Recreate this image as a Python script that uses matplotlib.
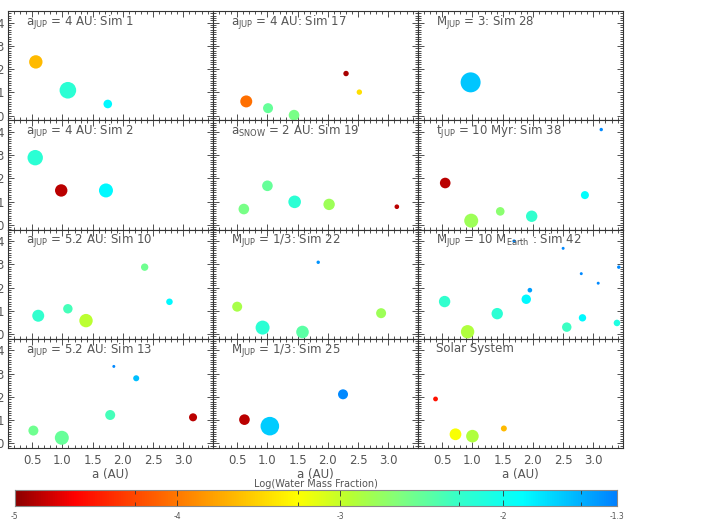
import matplotlib
matplotlib.use("Agg")
import matplotlib.pyplot as plt
import numpy as np
from matplotlib.colors import LinearSegmentedColormap
from matplotlib.ticker import MultipleLocator, FixedLocator

# ---------------- data (a [AU], y, mass [M_Earth], log water mass fraction) -------------
titles = [
    r"a$_{\mathrm{JUP}}$ = 4 AU: Sim 1",
    r"a$_{\mathrm{JUP}}$ = 4 AU: Sim 17",
    r"M$_{\mathrm{JUP}}$ = 3: Sim 28",
    r"a$_{\mathrm{JUP}}$ = 4 AU: Sim 2",
    r"a$_{\mathrm{SNOW}}$ = 2 AU: Sim 19",
    r"t$_{\mathrm{JUP}}$ = 10 Myr: Sim 38",
    r"a$_{\mathrm{JUP}}$ = 5.2 AU: Sim 10",
    r"M$_{\mathrm{JUP}}$ = 1/3: Sim 22",
    r"M$_{\mathrm{JUP}}$ = 10 M$_{\mathrm{Earth}}$ : Sim 42",
    r"a$_{\mathrm{JUP}}$ = 5.2 AU: Sim 13",
    r"M$_{\mathrm{JUP}}$ = 1/3: Sim 25",
    "Solar System",
]

sim1_a = [0.56, 1.09, 1.75]
sim1_y = [2.31, 1.09, 0.50]
sim1_m = [1.20, 2.29, 0.32]
sim1_w = [-3.65, -2.2, -1.85]

sim17_a = [2.30, 2.52, 0.65, 1.01, 1.44]
sim17_y = [1.81, 1.01, 0.61, 0.32, 0.02]
sim17_m = [0.08, 0.08, 0.86, 0.50, 0.60]
sim17_w = [-4.9, -3.45, -4.05, -2.5, -2.6]

sim28_a = [0.97]
sim28_y = [1.43]
sim28_m = [4.0]
sim28_w = [-1.62]

sim2_a = [0.55, 0.98, 1.72]
sim2_y = [2.89, 1.48, 1.48]
sim2_m = [1.83, 0.95, 1.37]
sim2_w = [-2.2, -4.85, -1.85]

sim19_a = [1.00, 0.61, 1.45, 2.02, 3.14]
sim19_y = [1.68, 0.68, 0.99, 0.88, 0.78]
sim19_m = [0.60, 0.60, 1.0, 0.74, 0.05]
sim19_w = [-2.5, -2.6, -2.2, -2.8, -4.85]

sim38_a = [3.13, 0.55, 2.86, 1.46, 1.98, 0.98]
sim38_y = [4.10, 1.80, 1.28, 0.58, 0.37, 0.18]
sim38_m = [0.02, 0.60, 0.26, 0.32, 0.74, 1.37]
sim38_w = [-1.35, -4.85, -1.9, -2.7, -2.25, -2.8]

sim10_a = [0.60, 1.09, 1.39, 2.36, 2.77]
sim10_y = [0.79, 1.09, 0.58, 2.88, 1.39]
sim10_m = [0.86, 0.42, 1.20, 0.20, 0.14]
sim10_w = [-2.25, -2.35, -2.95, -2.55, -1.85]

sim22_a = [1.84, 0.50, 0.92, 1.58, 2.88]
sim22_y = [3.09, 1.18, 0.28, 0.09, 0.90]
sim22_m = [0.02, 0.50, 1.37, 1.0, 0.50]
sim22_w = [-1.4, -2.85, -2.2, -2.45, -2.8]

sim42_a = [1.69, 2.50, 2.80, 3.08, 3.42, 1.95, 0.54, 1.89, 1.41, 0.92, 2.56, 2.82, 3.39]
sim42_y = [4.00, 3.69, 2.60, 2.19, 2.88, 1.89, 1.40, 1.50, 0.88, 0.10, 0.30, 0.70, 0.48]
sim42_m = [0.02, 0.013, 0.013, 0.013, 0.02, 0.05, 0.74, 0.42, 0.74, 1.20, 0.42, 0.20, 0.14]
sim42_w = [-1.35, -1.35, -1.35, -1.35, -1.35, -1.45, -2.25, -1.85, -2.2, -2.9, -2.3, -1.85, -2.1]

sim13_a = [1.85, 2.22, 1.79, 3.16, 0.52, 0.99]
sim13_y = [3.31, 2.80, 1.22, 1.12, 0.55, 0.24]
sim13_m = [0.013, 0.11, 0.50, 0.26, 0.50, 1.37]
sim13_w = [-1.35, -1.6, -2.35, -4.85, -2.55, -2.5]

sim25_a = [0.62, 1.04, 2.25]
sim25_y = [1.02, 0.74, 2.11]
sim25_m = [0.60, 3.2, 0.50]
sim25_w = [-4.85, -1.65, -1.35]

solar_a = [0.39, 0.72, 1.00, 1.52]
solar_y = [1.91, 0.39, 0.31, 0.64]
solar_m = [0.055, 0.815, 1.0, 0.107]
solar_w = [-4.55, -3.25, -2.9, -3.65]

panels = [
    (sim1_a, sim1_y, sim1_m, sim1_w),
    (sim17_a, sim17_y, sim17_m, sim17_w),
    (sim28_a, sim28_y, sim28_m, sim28_w),
    (sim2_a, sim2_y, sim2_m, sim2_w),
    (sim19_a, sim19_y, sim19_m, sim19_w),
    (sim38_a, sim38_y, sim38_m, sim38_w),
    (sim10_a, sim10_y, sim10_m, sim10_w),
    (sim22_a, sim22_y, sim22_m, sim22_w),
    (sim42_a, sim42_y, sim42_m, sim42_w),
    (sim13_a, sim13_y, sim13_m, sim13_w),
    (sim25_a, sim25_y, sim25_m, sim25_w),
    (solar_a, solar_y, solar_m, solar_w),
]

x_ticks = [0.5, 1.0, 1.5, 2.0, 2.5, 3.0]
x_ticklabels = ["0.5", "1.0", "1.5", "2.0", "2.5", "3.0"]
y_ticks = [0, 1, 2, 3, 4]
cb_ticks = [-5, -4, -3, -2, -1.3]
cb_ticklabels = ["-5", "-4", "-3", "-2", "-1.3"]
vmin, vmax = -5.0, -1.3

# ---------------- colormap ----------------
nodes = [(-5.0, (0.55, 0.0, 0.0)),
         (-4.64, (1.0, 0.0, 0.0)),
         (-4.27, (1.0, 0.28, 0.0)),
         (-3.86, (1.0, 0.58, 0.0)),
         (-3.27, (1.0, 1.0, 0.0)),
         (-2.94, (0.72, 1.0, 0.2)),
         (-2.63, (0.5, 1.0, 0.5)),
         (-2.26, (0.2, 1.0, 0.8)),
         (-1.88, (0.0, 1.0, 1.0)),
         (-1.3, (0.0, 0.5, 1.0))]
cmap = LinearSegmentedColormap.from_list(
    "water", [((v - vmin) / (vmax - vmin), c) for v, c in nodes])

# ---------------- figure ----------------
W, H = 708, 522
fig = plt.figure(figsize=(W / 100, H / 100), dpi=100)
txt_col = "#555555"
plt.rcParams['font.family'] = ['DejaVu Sans']
plt.rcParams['mathtext.fontset'] = 'dejavusans'

col_left = [8, 213, 418]
col_w = 205
row_top = [11, 120.25, 229.5, 338.75]
row_h = 109.25

def size_of(m):
    r_px = 6.3 * np.cbrt(np.asarray(m, dtype=float))
    return (2 * r_px * 0.72) ** 2

for k, (a, yv, m, w) in enumerate(panels):
    r, c = divmod(k, 3)
    ax = fig.add_axes([col_left[c] / W, 1 - (row_top[r] + row_h) / H, col_w / W, row_h / H])
    ax.scatter(a, yv, s=size_of(m), c=w, cmap=cmap, vmin=vmin, vmax=vmax,
               edgecolors='none', zorder=3)
    ax.set_xlim(0.1, 3.49)
    ax.set_ylim(-0.2, 4.5)
    ax.xaxis.set_major_locator(FixedLocator(x_ticks))
    ax.xaxis.set_minor_locator(MultipleLocator(0.1))
    ax.yaxis.set_major_locator(FixedLocator(y_ticks))
    ax.yaxis.set_minor_locator(MultipleLocator(0.1))
    ax.tick_params(which='both', direction='in', top=True, right=True,
                   colors='#333333', labelcolor=txt_col, labelsize=8.5, width=0.6)
    ax.tick_params(which='major', length=4)
    ax.tick_params(which='minor', length=2)
    ax.tick_params(axis='x', pad=4.5)
    ax.tick_params(axis='y', pad=3)
    for sp in ax.spines.values():
        sp.set_linewidth(0.8)
        sp.set_color('#333333')
    if r == 3:
        ax.set_xticklabels(x_ticklabels)
        ax.set_xlabel("a (AU)", color=txt_col, fontsize=8.5, labelpad=0.5)
    else:
        ax.set_xticklabels([])
    if c != 0:
        ax.set_yticklabels([])
    ax.text(18 / col_w, 1 - 3 / row_h, titles[k], transform=ax.transAxes,
            ha='left', va='top', fontsize=8.5, color=txt_col)

# ---------------- colorbar ----------------
cax = fig.add_axes([14.7 / W, 1 - 506 / H, 602.3 / W, 16 / H])
grad = np.linspace(vmin, vmax, 512).reshape(1, -1)
cax.imshow(grad, aspect='auto', cmap=cmap, vmin=vmin, vmax=vmax,
           extent=[vmin, vmax, 0, 1])
cax.set_xlim(vmin, vmax)
cax.set_yticks([])
cax.set_xticks(cb_ticks)
cax.set_xticklabels(cb_ticklabels)
cax.xaxis.set_minor_locator(FixedLocator([-4.26, -3.26, -2.27, -1.52]))
cax.tick_params(which='both', direction='in', top=True, bottom=True,
                colors='#333333', labelcolor=txt_col, labelsize=5.5, width=0.6, pad=4)
cax.tick_params(which='major', length=4)
cax.tick_params(which='minor', length=3)
for sp in cax.spines.values():
    sp.set_color('#888888')
    sp.set_linewidth(0.8)
fig.text(316 / W, 1 - 484 / H, "Log(Water Mass Fraction)", ha='center', va='center',
         fontsize=7, color=txt_col)

fig.savefig("out.png", dpi=100)
